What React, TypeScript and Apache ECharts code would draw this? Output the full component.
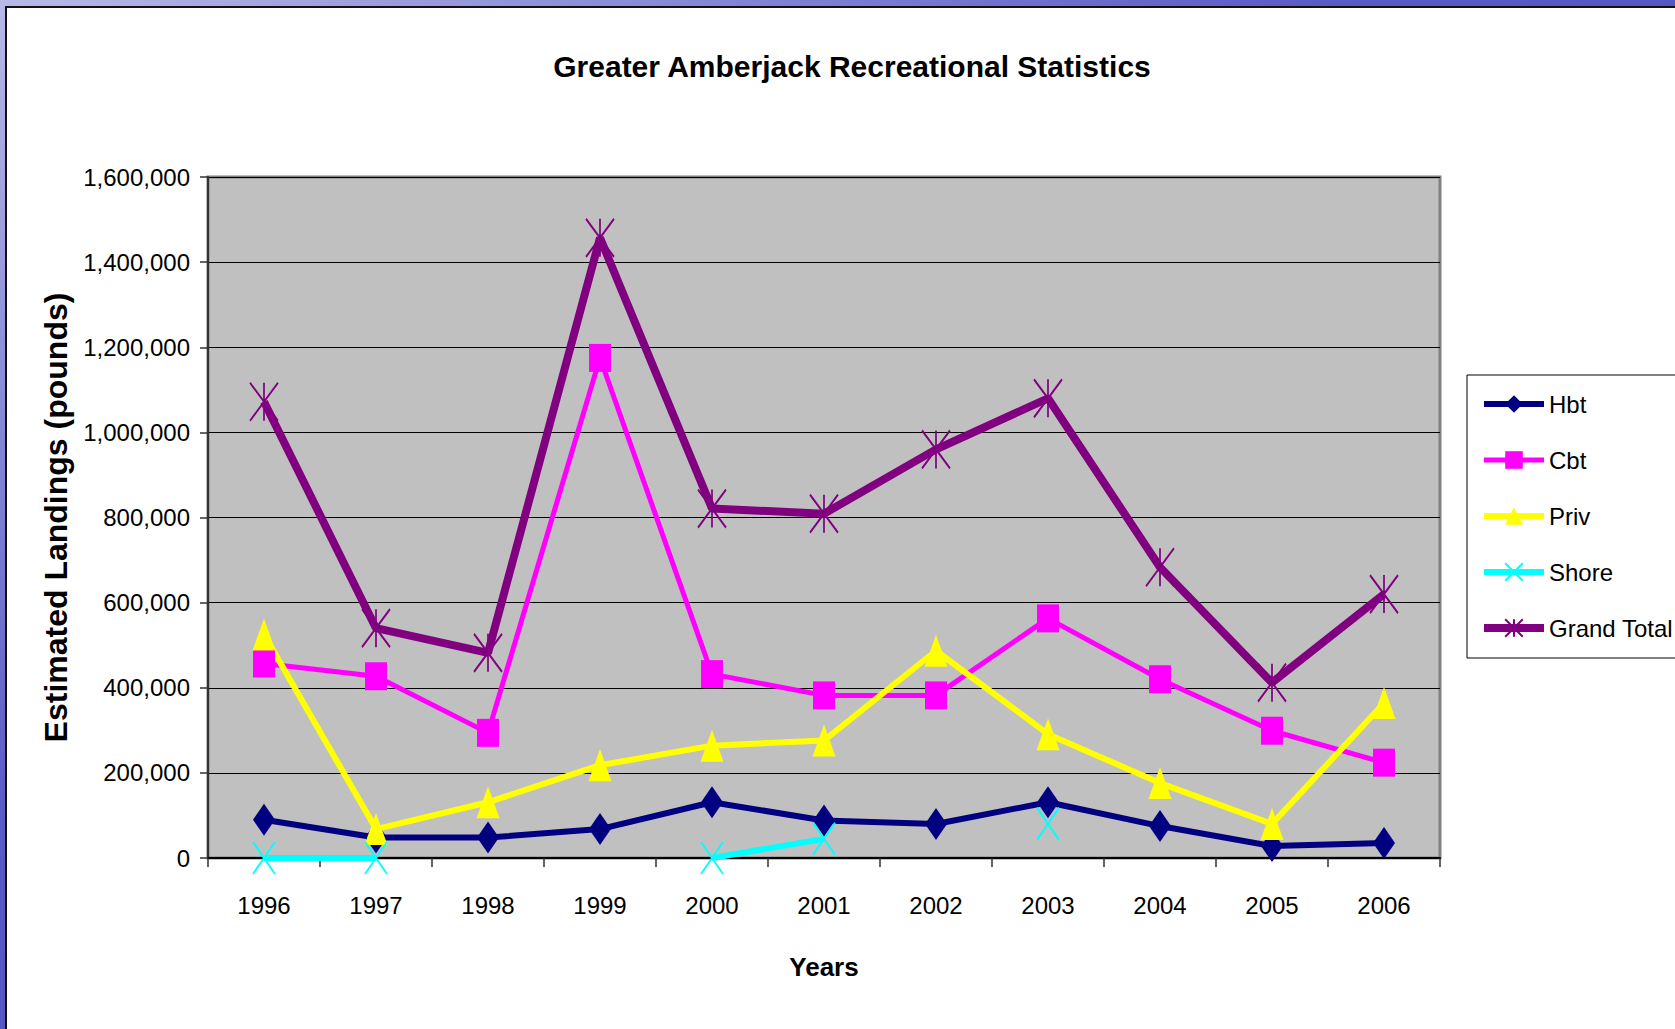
import React, { useEffect, useRef } from "react";
import * as echarts from "echarts";

const years = ["1996", "1997", "1998", "1999", "2000", "2001", "2002", "2003", "2004", "2005", "2006"];
const hbt = [90000, 48000, 48000, 68000, 131000, 88000, 80000, 131000, 75000, 28000, 35000];
const cbt = [457000, 427000, 294000, 1175000, 432000, 382000, 382000, 563000, 420000, 299000, 224000];
const priv = [525000, 68000, 131000, 218000, 264000, 276000, 487000, 291000, 176000, 80000, 364000];
const shore = [0, 0, null, null, 0, 45000, null, 80000, null, null, null];
const grandTotal = [1072000, 540000, 482000, 1457000, 821000, 809000, 960000, 1080000, 683000, 412000, 620000];

const FONT = "'Liberation Sans', Arial, sans-serif";

export default function App() {
  const ref = useRef<HTMLDivElement>(null);
  useEffect(() => {
    document.body.style.margin = "0";
    const chart = echarts.init(ref.current!, null, { renderer: "svg" });
    const mk = (name: string, data: any[], color: string, width: number, symbol: string, size: any, stroke = false) => ({
      name,
      type: "line",
      data,
      symbol,
      symbolSize: size,
      showAllSymbol: true,
      connectNulls: false,
      lineStyle: { color, width },
      itemStyle: stroke
        ? { color: color, borderColor: color, borderWidth: 2 }
        : { color, borderWidth: 0 },
      emphasis: { disabled: true },
    });
    chart.setOption({
      animation: false,
      title: {
        text: "Greater Amberjack Recreational Statistics",
        left: 847,
        top: 46,
        textAlign: "center",
        textStyle: { fontFamily: FONT, fontWeight: "bold", fontSize: 30, color: "#000" },
      },
      graphic: [
        {
          type: "rect",
          z: 1,
          shape: { x: 1467, y: 375, width: 260, height: 283 },
          style: { fill: "#fff", stroke: "#000", lineWidth: 1 },
        },
      ],
      legend: {
        orient: "vertical",
        left: 1475,
        top: 387,
        itemWidth: 60,
        itemHeight: 22,
        itemGap: 32,
        z: 5,
        lineStyle: { width: "inherit" },
        textStyle: { fontFamily: FONT, fontSize: 24, color: "#000" },
        data: ["Hbt", "Cbt", "Priv", "Shore", "Grand Total"],
      },
      grid: {
        left: 208,
        top: 177,
        width: 1232,
        height: 681,
        show: true,
        backgroundColor: "#c0c0c0",
        borderColor: "#808080",
        borderWidth: 3,
      },
      xAxis: {
        type: "category",
        data: years,
        boundaryGap: true,
        name: "Years",
        nameLocation: "middle",
        nameGap: 96,
        nameTextStyle: { fontFamily: FONT, fontWeight: "bold", fontSize: 26, color: "#000" },
        axisLine: { lineStyle: { color: "#000", width: 2 } },
        axisTick: { show: true, length: 9, lineStyle: { color: "#333", width: 1.5 } },
        axisLabel: { margin: 35, fontFamily: FONT, fontSize: 24, color: "#000" },
      },
      yAxis: {
        type: "value",
        min: 0,
        max: 1600000,
        interval: 200000,
        name: "Estimated Landings (pounds)",
        nameLocation: "middle",
        nameRotate: 90,
        nameGap: 118,
        nameTextStyle: { fontFamily: FONT, fontWeight: "bold", fontSize: 32, color: "#000" },
        axisLine: { show: true, lineStyle: { color: "#333", width: 2 } },
        axisTick: { show: true, length: 8, lineStyle: { color: "#333", width: 1.5 } },
        axisLabel: {
          margin: 18,
          fontFamily: FONT,
          fontSize: 24,
          color: "#000",
          formatter: (v: number) => v.toLocaleString("en-US"),
        },
        splitLine: { lineStyle: { color: "#000", width: 1 } },
      },
      series: [
        mk("Hbt", hbt, "#000080", 6, "diamond", [22, 32]),
        mk("Cbt", cbt, "#ff00ff", 5, "rect", [22, 28]),
        mk("Priv", priv, "#ffff00", 6, "triangle", [23, 32]),
        mk("Shore", shore, "#00ffff", 6, "path://M0,0L22,32M22,0L0,32", [22, 32], true),
        mk("Grand Total", grandTotal, "#800080", 8, "path://M0,0L28,38M28,0L0,38M14,0L14,38", [28, 38], true),
      ],
    });
    return () => chart.dispose();
  }, []);
  return (
    <div
      style={{
        position: "fixed",
        left: 0,
        top: 0,
        width: 1675,
        height: 1029,
        overflow: "hidden",
        background: "linear-gradient(to bottom right, #b8b8e8, #5a5ac4 40%, #4848b4)",
      }}
    >
      <div
        style={{
          position: "absolute",
          left: 5,
          top: 6,
          width: 1700,
          height: 1100,
          background: "#fff",
          borderLeft: "2px solid #111",
          borderTop: "2px solid #111",
        }}
      />
      <div ref={ref} style={{ position: "absolute", left: 0, top: 0, width: 1675, height: 1029 }} />
    </div>
  );
}
